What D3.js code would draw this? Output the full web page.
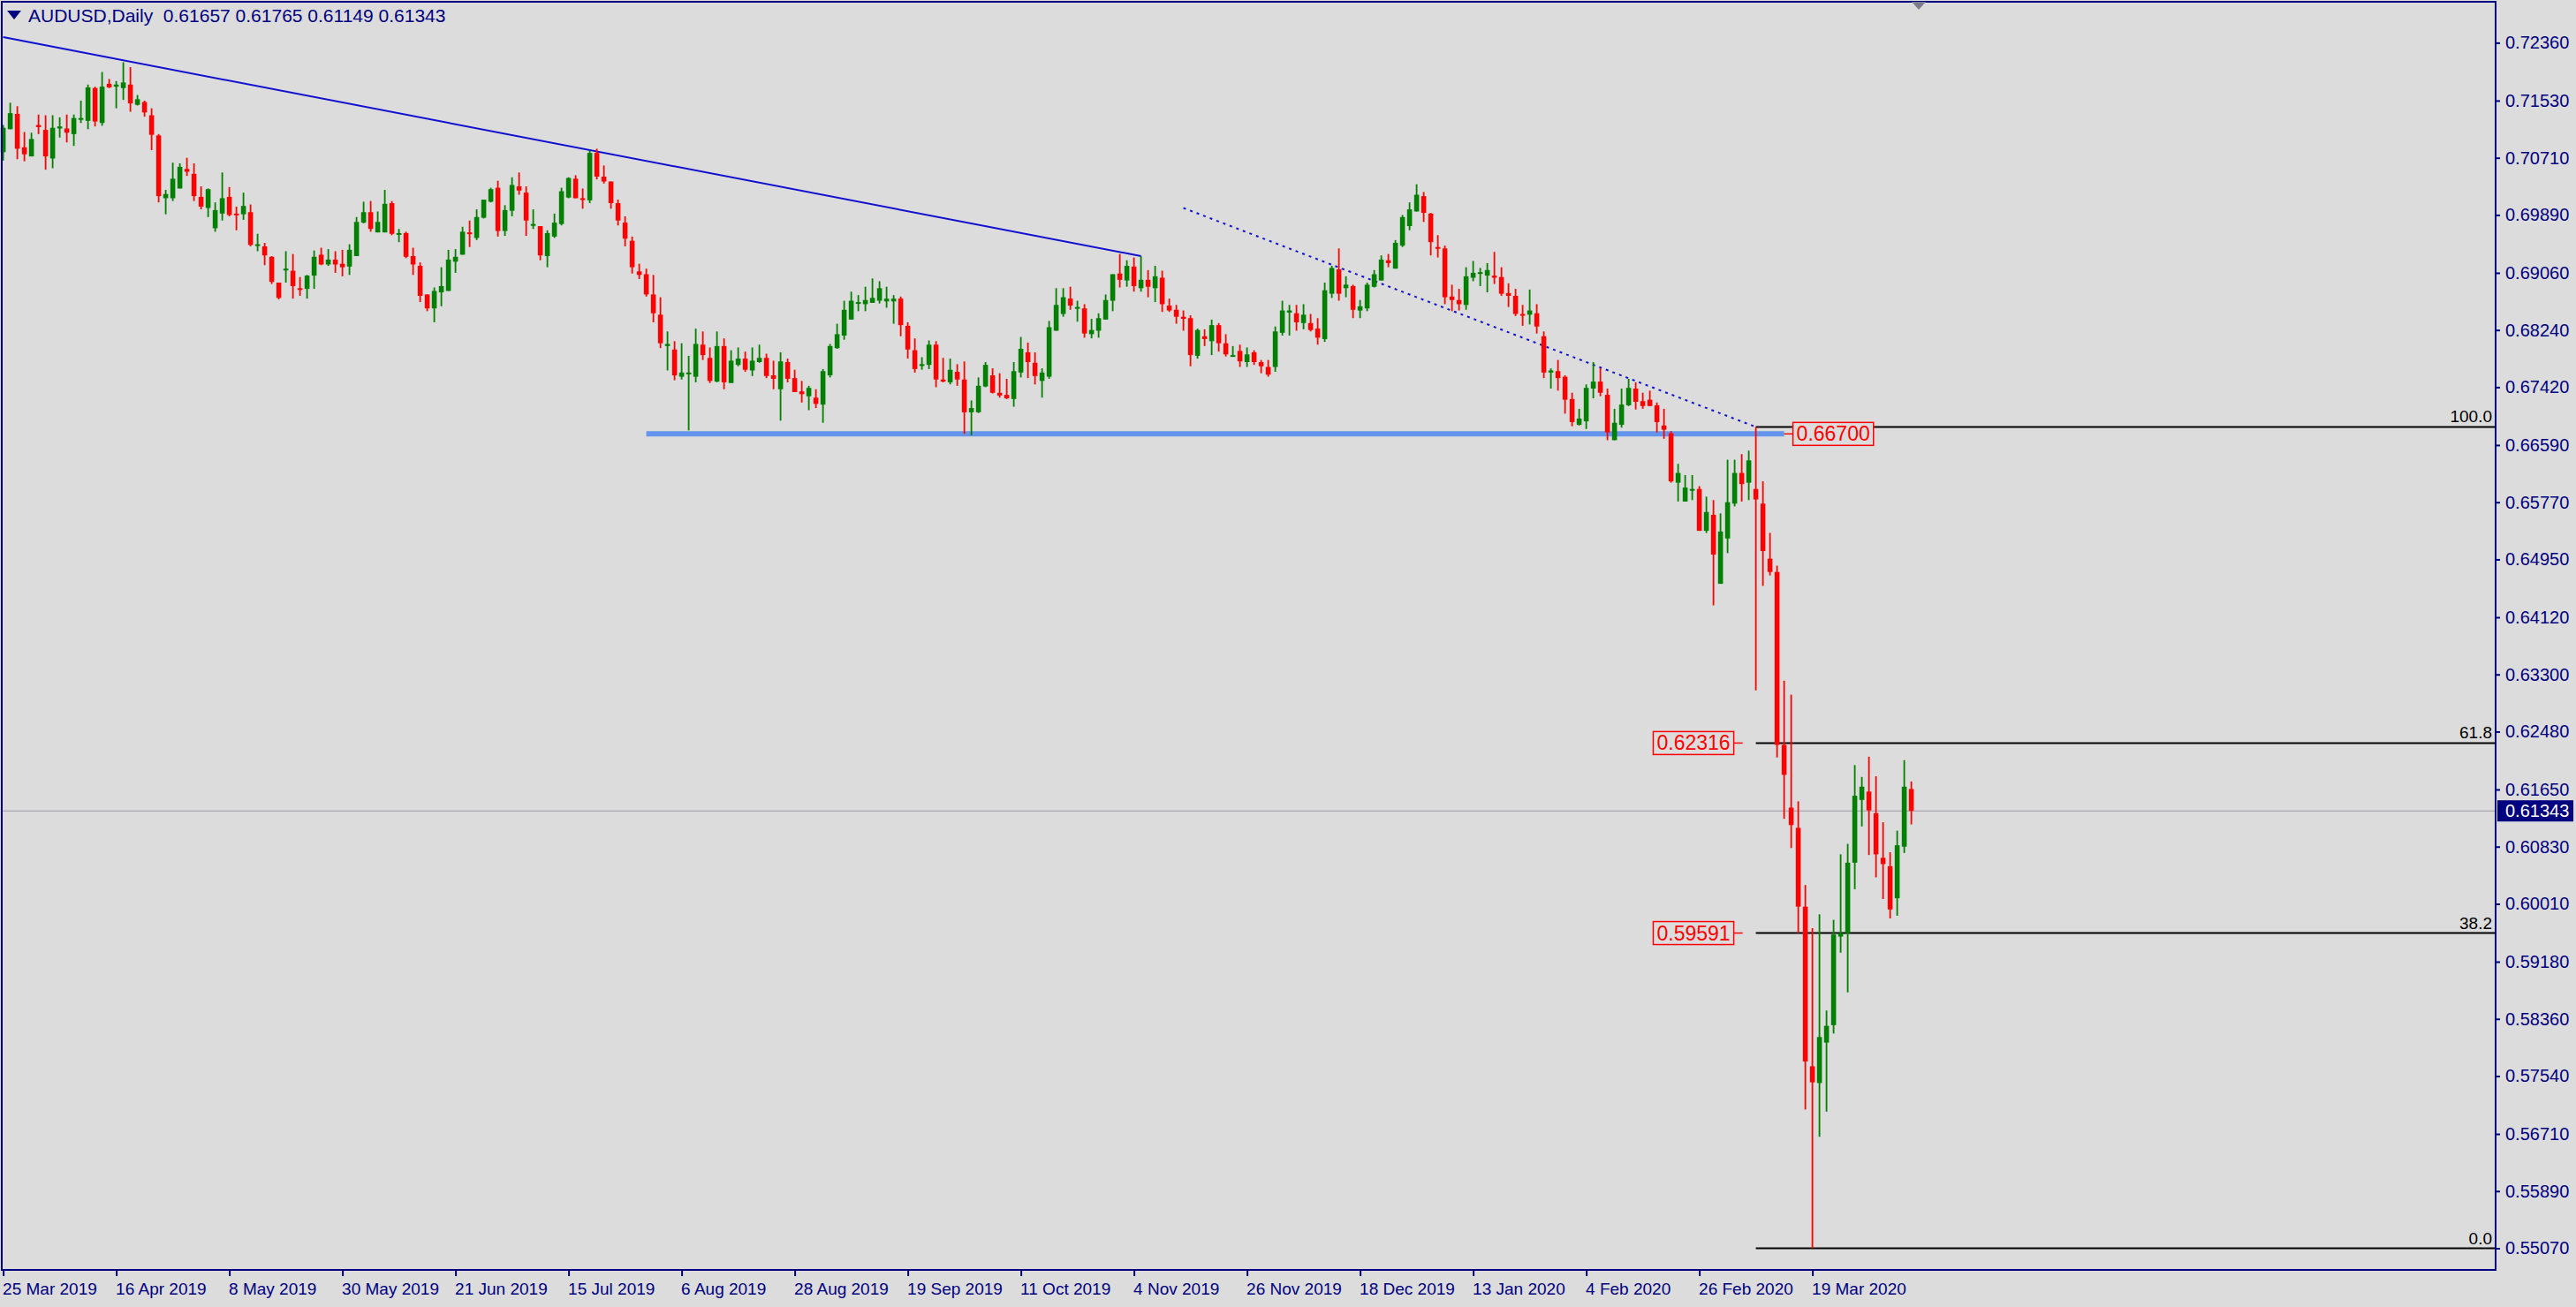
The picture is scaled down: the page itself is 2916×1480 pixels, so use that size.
<!DOCTYPE html>
<html>
<head>
<meta charset="utf-8">
<script src="https://cdn.jsdelivr.net/npm/d3@7"></script>
<style>
  body { margin: 0; background: #dcdcdc; }
  svg { display: block; }
  .lbl { font-family: "Liberation Sans", Arial, sans-serif; }
</style>
</head>
<body>
<svg id="chart" width="2916" height="1480"></svg>
<script>
// AUDUSD daily, 25 Mar 2019 .. 8 Apr 2020 (271 bars)
const opens = [
  0.7079,0.7112,0.7134,0.7086,0.7073,0.7118,0.7111,0.7070,0.7113,0.7113,
  0.7105,0.7126,0.7124,0.7171,0.7121,0.7177,0.7173,0.7171,0.7176,0.7147,
  0.7151,0.7132,0.7103,0.7013,0.7013,0.7027,0.7055,0.7048,0.7015,0.6999,
  0.6970,0.6991,0.7015,0.6991,0.6990,0.6993,0.6946,0.6944,0.6929,0.6892,
  0.6911,0.6909,0.6884,0.6883,0.6902,0.6932,0.6918,0.6925,0.6919,0.6915,
  0.6930,0.6978,0.6993,0.6964,0.6964,0.7006,0.6961,0.6963,0.6930,0.6916,
  0.6875,0.6855,0.6878,0.6880,0.6922,0.6932,0.6964,0.6956,0.6985,0.7008,
  0.7028,0.6966,0.6995,0.7030,0.7021,0.6974,0.6973,0.6930,0.6958,0.6976,
  0.7014,0.7041,0.7013,0.7010,0.7078,0.7044,0.7037,0.7006,
  0.6978,0.6952,0.6908,0.6904,0.6875,0.6846,0.6801,0.6796,0.6757,0.6762,0.6757,0.6803,
  0.6784,0.6750,0.6801,0.6748,0.6774,0.6783,0.6766,0.6778,0.6784,0.6759,
  0.6739,0.6778,0.6755,0.6736,0.6729,0.6727,0.6717,0.6759,0.6798,0.6816,
  0.6839,0.6863,0.6861,0.6863,0.6866,0.6865,0.6865,0.6869,0.6830,0.6795,
  0.6774,0.6774,0.6803,0.6753,0.6749,0.6764,0.6753,0.6706,0.6706,0.6743,
  0.6759,0.6734,0.6731,0.6725,0.6763,0.6792,0.6777,0.6751,0.6757,0.6823,
  0.6847,0.6869,0.6855,0.6855,0.6818,0.6823,0.6839,0.6866,0.6905,0.6895,
  0.6915,0.6884,0.6896,0.6884,0.6899,0.6859,0.6853,0.6843,0.6841,
  0.6787,0.6815,0.6808,0.6831,0.6805,0.6787,0.6794,0.6778,0.6792,0.6778,0.6771,
  0.6771,0.6820,0.6849,0.6848,0.6834,0.6834,0.6826,0.6811,0.6876,0.6911,
  0.6884,0.6887,0.6852,0.6855,0.6886,0.6895,0.6924,0.6912,0.6945,0.6973,
  0.6994,0.7016,0.6991,0.6943,0.6941,0.6872,0.6867,0.6860,0.6899,0.6905,
  0.6902,0.6902,0.6900,0.6877,0.6873,0.6847,0.6846,0.6848,0.6815,0.6763,
  0.6765,0.6757,0.6725,0.6688,0.6693,0.6740,0.6750,0.6731,0.6666,0.6688,
  0.6716,0.6740,0.6722,0.6724,0.6716,0.6687,0.6676,
  0.6605,0.6578,0.6594,0.6596,0.6536,0.6559,0.6460,0.6525,0.6575,0.6619,0.6605,0.6596,0.6575,
  0.6496,0.6477,0.6229,0.6139,0.6110,0.5997,0.5768,0.5744,0.5802,0.5827,
  0.5954,0.5959,0.6060,0.6150,0.6162,0.6131,0.6067,0.6055,0.6009,0.6083,0.61657
];
const highs = [
  0.7118,0.7150,0.7145,0.7108,0.7107,0.7133,0.7132,0.7132,0.7129,0.7133,
  0.7133,0.7153,0.7176,0.7173,0.7194,0.7184,0.7181,0.7208,0.7201,0.7161,
  0.7153,0.7142,0.7105,0.7025,0.7064,0.7063,0.7071,0.7063,0.7030,0.7027,
  0.7007,0.7050,0.7029,0.7001,0.7021,0.7004,0.6962,0.6949,0.6930,0.6892,
  0.6937,0.6933,0.6900,0.6903,0.6938,0.6942,0.6940,0.6937,0.6939,0.6947,
  0.6986,0.7008,0.7009,0.6994,0.7025,0.7009,0.6969,0.6965,0.6942,0.6921,
  0.6875,0.6885,0.6914,0.6939,0.6940,0.6972,0.6981,0.6997,0.7009,0.7028,
  0.7038,0.7003,0.7043,0.7050,0.7030,0.6997,0.6973,0.6967,0.6991,0.7028,
  0.7043,0.7046,0.7027,0.7081,0.7084,0.7060,0.7037,0.7011,
  0.6987,0.6958,0.6919,0.6912,0.6903,0.6871,0.6822,0.6808,0.6805,0.6787,0.6826,0.6822,
  0.6799,0.6822,0.6812,0.6795,0.6799,0.6793,0.6799,0.6803,0.6790,0.6780,
  0.6792,0.6783,0.6767,0.6751,0.6744,0.6739,0.6768,0.6804,0.6833,0.6866,
  0.6879,0.6874,0.6886,0.6898,0.6894,0.6886,0.6874,0.6872,0.6835,0.6812,
  0.6785,0.6809,0.6808,0.6784,0.6783,0.6775,0.6779,0.6723,0.6756,0.6778,
  0.6769,0.6762,0.6754,0.6778,0.6814,0.6806,0.6792,0.6769,0.6837,0.6884,
  0.6884,0.6886,0.6866,0.6861,0.6840,0.6848,0.6875,0.6904,0.6933,0.6924,
  0.6928,0.6930,0.6910,0.6916,0.6909,0.6869,0.6860,0.6852,0.6845,
  0.6826,0.6825,0.6839,0.6834,0.6818,0.6801,0.6803,0.6799,0.6795,0.6781,0.6781,
  0.6829,0.6866,0.6860,0.6860,0.6861,0.6847,0.6841,0.6892,0.6916,0.6941,
  0.6901,0.6889,0.6867,0.6892,0.6910,0.6931,0.6933,0.6953,0.6989,0.7007,
  0.7033,0.7022,0.6992,0.6960,0.6945,0.6889,0.6883,0.6914,0.6923,0.6913,
  0.6920,0.6936,0.6914,0.6891,0.6883,0.6860,0.6882,0.6861,0.6822,0.6769,
  0.6781,0.6759,0.6734,0.6711,0.6746,0.6778,0.6769,0.6740,0.6711,0.6740,
  0.6754,0.6749,0.6734,0.6737,0.6720,0.6711,0.6679,
  0.6632,0.6616,0.6616,0.6600,0.6585,0.6580,0.6561,0.6638,0.6638,0.6646,0.6651,0.6685,0.6607,
  0.6533,0.6486,0.6321,0.6301,0.6148,0.6028,0.5966,0.5986,0.5848,0.5978,
  0.6072,0.6087,0.6200,0.6183,0.6212,0.6184,0.6118,0.6075,0.6106,0.6207,0.61765
];
const lows = [
  0.7067,0.7112,0.7069,0.7066,0.7073,0.7105,0.7054,0.7056,0.7100,0.7093,
  0.7088,0.7121,0.7112,0.7116,0.7117,0.7171,0.7142,0.7154,0.7137,0.7146,
  0.7130,0.7082,0.7007,0.6990,0.7009,0.7027,0.7045,0.7009,0.6997,0.6986,
  0.6965,0.6981,0.6987,0.6967,0.6982,0.6944,0.6937,0.6917,0.6890,0.6868,
  0.6892,0.6869,0.6873,0.6869,0.6883,0.6917,0.6916,0.6906,0.6901,0.6903,
  0.6930,0.6977,0.6965,0.6964,0.6964,0.6960,0.6950,0.6927,0.6903,0.6864,
  0.6851,0.6835,0.6858,0.6880,0.6906,0.6932,0.6943,0.6953,0.6984,0.7007,
  0.6958,0.6959,0.6987,0.7018,0.6959,0.6969,0.6924,0.6914,0.6956,0.6974,
  0.7013,0.7013,0.6998,0.7006,0.7040,0.7034,0.6998,0.6974,
  0.6944,0.6905,0.6897,0.6872,0.6835,0.6798,0.6766,0.6752,0.6753,0.6680,0.6749,0.6781,
  0.6748,0.6749,0.6739,0.6748,0.6772,0.6764,0.6758,0.6777,0.6755,0.6739,
  0.6694,0.6749,0.6735,0.6720,0.6709,0.6712,0.6691,0.6756,0.6797,0.6810,
  0.6839,0.6851,0.6851,0.6863,0.6862,0.6856,0.6833,0.6815,0.6783,0.6763,
  0.6767,0.6768,0.6742,0.6749,0.6746,0.6744,0.6675,0.6673,0.6705,0.6742,
  0.6733,0.6727,0.6725,0.6714,0.6756,0.6755,0.6746,0.6727,0.6754,0.6823,
  0.6843,0.6853,0.6836,0.6813,0.6812,0.6813,0.6839,0.6851,0.6885,0.6886,
  0.6879,0.6879,0.6871,0.6864,0.6850,0.6850,0.6833,0.6823,0.6772,
  0.6783,0.6801,0.6788,0.6793,0.6786,0.6786,0.6771,0.6771,0.6774,0.6762,0.6757,
  0.6764,0.6816,0.6816,0.6823,0.6825,0.6822,0.6803,0.6807,0.6870,0.6866,
  0.6871,0.6841,0.6841,0.6851,0.6885,0.6895,0.6914,0.6912,0.6943,0.6967,
  0.6994,0.6979,0.6931,0.6928,0.6861,0.6851,0.6852,0.6853,0.6894,0.6887,
  0.6878,0.6890,0.6873,0.6857,0.6844,0.6830,0.6832,0.6819,0.6755,0.6740,
  0.6737,0.6704,0.6686,0.6687,0.6682,0.6726,0.6729,0.6666,0.6666,0.6684,
  0.6715,0.6710,0.6711,0.6715,0.6677,0.6668,0.6605,
  0.6578,0.6578,0.6580,0.6536,0.6533,0.6429,0.6460,0.6504,0.6571,0.6578,0.6580,0.6307,0.6457,
  0.6472,0.6211,0.6123,0.6081,0.5959,0.5706,0.5507,0.5667,0.5703,0.5815,
  0.5931,0.5874,0.6022,0.6112,0.6071,0.6039,0.6008,0.5980,0.5984,0.6074,0.61149
];
const closes = [
  0.7114,0.7135,0.7084,0.7076,0.7098,0.7115,0.7073,0.7114,0.7116,0.7107,
  0.7128,0.7128,0.7172,0.7123,0.7173,0.7172,0.7176,0.7179,0.7149,0.7155,
  0.7136,0.7104,0.7016,0.7019,0.7041,0.7058,0.7051,0.7016,0.7001,0.7026,
  0.6996,0.7013,0.6989,0.6989,0.7002,0.6946,0.6947,0.6931,0.6893,0.6870,
  0.6912,0.6887,0.6883,0.6902,0.6929,0.6918,0.6925,0.6918,0.6914,0.6939,
  0.6979,0.6993,0.6969,0.6979,0.7005,0.6962,0.6963,0.6929,0.6918,0.6873,
  0.6855,0.6880,0.6887,0.6925,0.6929,0.6965,0.6962,0.6986,0.7011,0.7026,
  0.6966,0.6996,0.7032,0.7024,0.6981,0.6976,0.6931,0.6963,0.6978,0.7023,
  0.7042,0.7013,0.7011,0.7078,0.7044,0.7037,0.7006,0.6981,
  0.6955,0.6914,0.6903,0.6875,0.6848,0.6805,0.6804,0.6759,0.6763,0.6763,0.6804,0.6788,
  0.6751,0.6801,0.6749,0.6780,0.6783,0.6767,0.6780,0.6784,0.6758,0.6754,
  0.6779,0.6754,0.6735,0.6732,0.6741,0.6718,0.6765,0.6801,0.6818,0.6853,
  0.6866,0.6864,0.6867,0.6870,0.6884,0.6869,0.6869,0.6831,0.6796,0.6768,
  0.6775,0.6803,0.6753,0.6750,0.6767,0.6753,0.6706,0.6712,0.6744,0.6774,
  0.6734,0.6730,0.6726,0.6765,0.6797,0.6778,0.6758,0.6763,0.6828,0.6860,
  0.6871,0.6859,0.6857,0.6819,0.6824,0.6841,0.6867,0.6904,0.6896,0.6916,
  0.6887,0.6896,0.6886,0.6901,0.6861,0.6852,0.6843,0.6840,0.6788,
  0.6824,0.6811,0.6831,0.6805,0.6789,0.6788,0.6779,0.6789,0.6778,0.6772,0.6760,
  0.6822,0.6852,0.6852,0.6835,0.6846,0.6824,0.6813,0.6881,0.6913,0.6876,
  0.6889,0.6853,0.6858,0.6889,0.6904,0.6925,0.6920,0.6949,0.6986,0.6997,
  0.7018,0.6992,0.6950,0.6941,0.6871,0.6867,0.6861,0.6901,0.6906,0.6907,
  0.6910,0.6899,0.6876,0.6873,0.6847,0.6846,0.6852,0.6829,0.6763,0.6766,
  0.6755,0.6724,0.6692,0.6697,0.6741,0.6750,0.6734,0.6677,0.6691,0.6717,
  0.6741,0.6721,0.6715,0.6715,0.6692,0.6681,0.6607,
  0.6619,0.6598,0.6596,0.6536,0.6563,0.6502,0.6535,0.6577,0.6619,0.6603,0.6637,0.6581,0.6507,
  0.6477,0.6229,0.6186,0.6114,0.5997,0.5775,0.5745,0.5810,0.5826,0.5957,
  0.5959,0.6060,0.6156,0.6169,0.6135,0.6072,0.6058,0.5993,0.6085,0.6169,0.61343
];

const dateLabels = ['25 Mar 2019','16 Apr 2019','8 May 2019','30 May 2019','21 Jun 2019',
  '15 Jul 2019','6 Aug 2019','28 Aug 2019','19 Sep 2019','11 Oct 2019','4 Nov 2019',
  '26 Nov 2019','18 Dec 2019','13 Jan 2020','4 Feb 2020','26 Feb 2020','19 Mar 2020'];
const dateBars = dateLabels.map((d, i) => i * 16);

const priceTicks = [0.72360,0.71530,0.70710,0.69890,0.69060,0.68240,0.67420,0.66590,
  0.65770,0.64950,0.64120,0.63300,0.62480,0.61650,0.60830,0.60010,0.59180,0.58360,
  0.57540,0.56710,0.55890,0.55070];

// drawn objects
const trendLine = [{ bar: 0, price: 0.7244 }, { bar: 161, price: 0.6930 }];
const dotLine = [{ bar: 167, price: 0.6999 }, { bar: 248, price: 0.6685 }];
const support = { from: 91, to: 252, price: 0.6675, label: '0.66700' };
const fibStart = 248;
const fibLevels = [0.6685, 0.62316, 0.59591, 0.5507];
const fibNames = ['100.0', '61.8', '38.2', '0.0'];
const fibPriceLabels = [null, '0.62316', '0.59591', null];
const lastPrice = 0.61343;

const W = 2916, H = 1480;
const plotRight = 2825, plotBottom = 1438;
const navy = '#000080';

const svg = d3.select('#chart');
svg.append('rect').attr('width', W).attr('height', H).attr('fill', '#dcdcdc');

const x = d3.scaleLinear().domain([0, 270]).range([3.6, 2163.6]);
const y = d3.scaleLinear().domain([0.5507, 0.7236]).range([1413.5, 48.4]);

const bars = d3.range(opens.length).map(i => ({
  i: i, o: opens[i], h: highs[i], l: lows[i], c: closes[i]
}));

// current price line
svg.append('line')
  .attr('x1', 2).attr('x2', plotRight)
  .attr('y1', y(lastPrice)).attr('y2', y(lastPrice))
  .attr('stroke', '#9a9aa6').attr('stroke-width', 1.2);

// support line
svg.append('line')
  .attr('x1', x(support.from)).attr('x2', x(support.to))
  .attr('y1', y(support.price)).attr('y2', y(support.price))
  .attr('stroke', '#6495ed').attr('stroke-width', 6);

// trend lines
const line = d3.line().x(d => x(d.bar)).y(d => y(d.price));
svg.append('path').attr('d', line(trendLine))
  .attr('fill', 'none').attr('stroke', '#1010d0').attr('stroke-width', 2);
svg.append('path').attr('d', line(dotLine))
  .attr('fill', 'none').attr('stroke', '#1010d0').attr('stroke-width', 2)
  .attr('stroke-dasharray', '3,5');

// fibonacci levels
const fib = svg.append('g');
fib.selectAll('line').data(fibLevels).join('line')
  .attr('x1', x(fibStart)).attr('x2', plotRight)
  .attr('y1', d => y(d)).attr('y2', d => y(d))
  .attr('stroke', '#000').attr('stroke-width', 2);
fib.selectAll('text').data(fibLevels).join('text')
  .attr('class', 'lbl')
  .attr('x', plotRight - 4).attr('y', d => y(d) - 5)
  .attr('text-anchor', 'end')
  .attr('font-size', 19).attr('fill', '#000')
  .text((d, i) => fibNames[i]);

// red price boxes
function priceBox(g, xPos, anchor, yc, txt) {
  const t = g.append('text').attr('class', 'lbl')
    .attr('x', xPos).attr('y', yc + 8)
    .attr('text-anchor', anchor).attr('font-size', 23)
    .attr('fill', '#ff0000').text(txt);
  const bb = t.node().getBBox();
  g.insert('rect', 'text')
    .attr('x', bb.x - 4).attr('y', yc - 13)
    .attr('width', bb.width + 8).attr('height', 26)
    .attr('fill', '#dcdcdc').attr('stroke', '#ff0000').attr('stroke-width', 1.5);
}
fibLevels.forEach((lv, i) => {
  if (!fibPriceLabels[i]) return;
  const xr = x(fibStart) - 29;
  priceBox(svg.append('g'), xr, 'end', y(lv), fibPriceLabels[i]);
  svg.append('line').attr('x1', xr + 4).attr('x2', x(fibStart) - 15)
    .attr('y1', y(lv)).attr('y2', y(lv))
    .attr('stroke', '#ff0000').attr('stroke-width', 1.5);
});
{
  const xl = x(support.to) + 14;
  priceBox(svg.append('g'), xl, 'start', y(support.price), support.label);
  svg.append('line').attr('x1', x(support.to)).attr('x2', xl - 4)
    .attr('y1', y(support.price)).attr('y2', y(support.price))
    .attr('stroke', '#ff0000').attr('stroke-width', 1.5);
}

// candles
const candle = svg.append('g').selectAll('g').data(bars).join('g');
const col = d => d.c >= d.o ? '#008000' : '#ff0000';
candle.append('line')
  .attr('x1', d => x(d.i)).attr('x2', d => x(d.i))
  .attr('y1', d => y(d.h)).attr('y2', d => y(d.l))
  .attr('stroke', col).attr('stroke-width', 1.8);
candle.append('rect')
  .attr('x', d => x(d.i) - 2.8).attr('width', 5.6)
  .attr('y', d => y(Math.max(d.o, d.c)))
  .attr('height', d => Math.max(2, Math.abs(y(d.o) - y(d.c))))
  .attr('fill', col);

// frame
svg.append('rect').attr('x', 2).attr('y', 2)
  .attr('width', plotRight - 2).attr('height', plotBottom - 2)
  .attr('fill', 'none').attr('stroke', navy).attr('stroke-width', 2);

// right price axis
const yAxis = svg.append('g').attr('transform', `translate(${plotRight},0)`)
  .call(d3.axisRight(y).tickValues(priceTicks).tickFormat(d3.format('.5f')).tickSize(5).tickPadding(6));
yAxis.select('.domain').remove();
yAxis.selectAll('line').attr('stroke', navy).attr('stroke-width', 2);
yAxis.selectAll('text').attr('class', 'lbl').attr('font-size', 20).attr('fill', navy);

// bottom date axis
const xAxis = svg.append('g').attr('transform', `translate(0,${plotBottom})`)
  .call(d3.axisBottom(x).tickValues(dateBars).tickFormat((d, i) => dateLabels[i]).tickSize(7).tickPadding(8));
xAxis.select('.domain').remove();
xAxis.selectAll('line').attr('stroke', navy).attr('stroke-width', 2);
xAxis.selectAll('text').attr('class', 'lbl').attr('font-size', 19).attr('fill', navy)
  .attr('text-anchor', 'start').attr('dx', -1);

// last price tag
const ly = y(lastPrice);
svg.append('rect').attr('x', plotRight + 2).attr('y', ly - 12)
  .attr('width', 86).attr('height', 24).attr('fill', navy);
svg.append('text').attr('class', 'lbl')
  .attr('x', plotRight + 11).attr('y', ly + 7)
  .attr('font-size', 20).attr('fill', '#fff').text(d3.format('.5f')(lastPrice));

// header
svg.append('path').attr('d', 'M8,12 L24,12 L16,22 Z').attr('fill', navy);
svg.append('text').attr('class', 'lbl')
  .attr('x', 32).attr('y', 25).attr('font-size', 21).attr('fill', navy)
  .attr('xml:space', 'preserve')
  .text('AUDUSD,Daily  ' + [opens[270], highs[270], lows[270], closes[270]].map(d3.format('.5f')).join(' '));

// shift marker
svg.append('path').attr('d', 'M2164,2 L2180,2 L2172,11 Z').attr('fill', '#7c7c8c');
</script>
</body>
</html>
